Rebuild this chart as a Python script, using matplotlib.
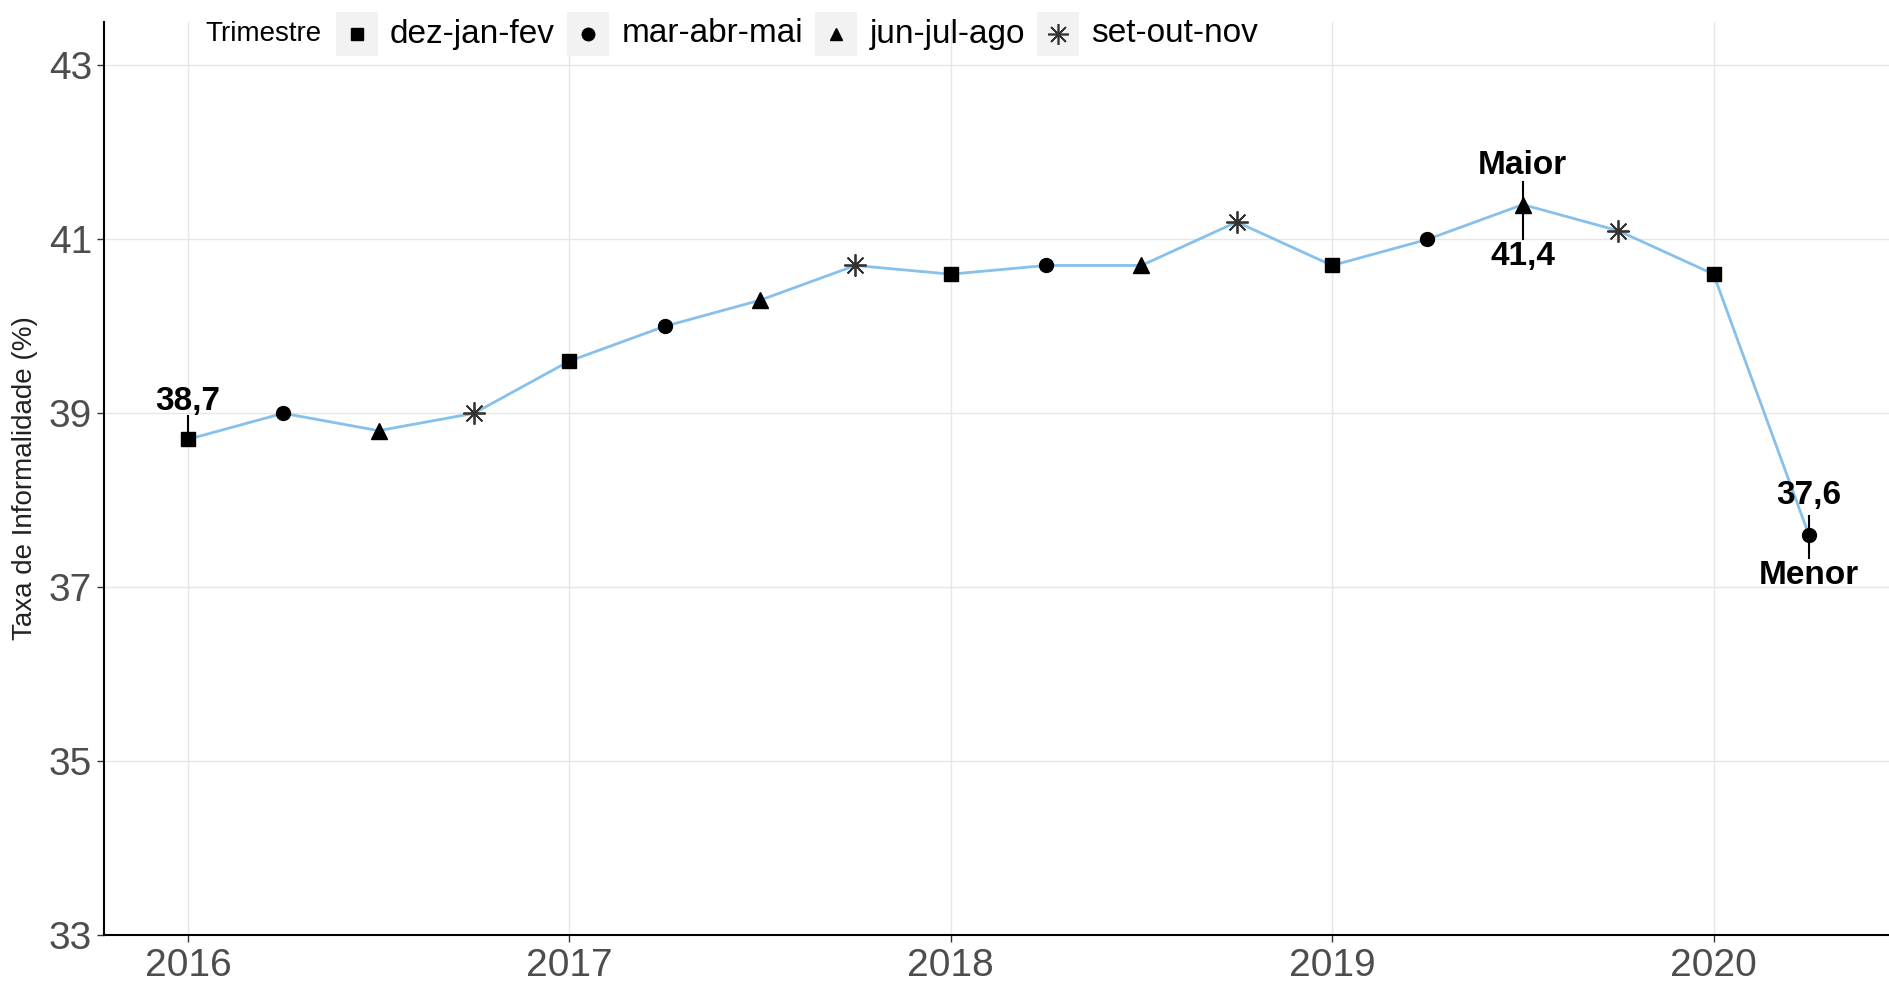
import matplotlib
matplotlib.use("Agg")
import matplotlib.pyplot as plt
from matplotlib.patches import Rectangle

plt.rcParams['font.family'] = ['Liberation Sans', 'DejaVu Sans']

# Data
periods = [2016.0, 2016.25, 2016.5, 2016.75, 2017.0, 2017.25, 2017.5, 2017.75,
           2018.0, 2018.25, 2018.5, 2018.75, 2019.0, 2019.25, 2019.5, 2019.75,
           2020.0, 2020.25]
values = [38.7, 39.0, 38.8, 39.0, 39.6, 40.0, 40.3, 40.7,
          40.6, 40.7, 40.7, 41.2, 40.7, 41.0, 41.4, 41.1,
          40.6, 37.6]
trimestres = ["dez-jan-fev", "mar-abr-mai", "jun-jul-ago", "set-out-nov"]
markers = {"dez-jan-fev": "s", "mar-abr-mai": "o", "jun-jul-ago": "^", "set-out-nov": (8, 2, 0)}
sizes = {"dez-jan-fev": 10, "mar-abr-mai": 10, "jun-jul-ago": 11, "set-out-nov": 16}
x_ticks = [2016, 2017, 2018, 2019, 2020]
y_ticks = [33, 35, 37, 39, 41, 43]

W, H = 1889, 986
fig = plt.figure(figsize=(W / 100, H / 100), dpi=100)
ax = fig.add_axes([104 / W, 1 - 935 / H, (1889 - 104) / W, (935 - 22) / H])

ax.plot(periods, values, color="#85c1ec", lw=2, zorder=2)
for i, (x, y) in enumerate(zip(periods, values)):
    t = trimestres[i % 4]
    m = markers[t]
    if t == "set-out-nov":
        ax.plot(x, y, marker=m, ms=sizes[t], color="#333333", mew=1.3, ls="none", zorder=3)
    else:
        ax.plot(x, y, marker=m, ms=sizes[t], color="black", ls="none", zorder=3)

ax.set_xlim(2015.78, 2020.46)
ax.set_ylim(33, 43.5)
ax.set_xticks(x_ticks)
ax.set_yticks(y_ticks)
ax.grid(True, color="#e6e6e6", lw=1)
ax.set_axisbelow(True)
for s in ["top", "right"]:
    ax.spines[s].set_visible(False)
for s in ["left", "bottom"]:
    ax.spines[s].set_color("black")
    ax.spines[s].set_linewidth(1.5)
ax.tick_params(axis="both", labelsize=28, labelcolor="#4d4d4d", color="#333333", length=5, width=1)
ax.tick_params(axis="x", pad=4)
ax.set_ylabel("Taxa de Informalidade (%)", fontsize=20, color="#222222", labelpad=8)

# Annotations
fs_ann = 24
i0 = 0
imax = values.index(max(values))
imin = values.index(min(values))
ax.plot([periods[i0]] * 2, [values[i0], 38.97], color="black", lw=1.5, zorder=4)
ax.text(periods[i0], 39.13, "38,7", ha="center", va="center", fontsize=fs_ann, fontweight="bold")
ax.plot([periods[imax]] * 2, [41.0, 41.66], color="black", lw=1.5, zorder=4)
ax.text(periods[imax], 41.85, "Maior", ha="center", va="center", fontsize=fs_ann, fontweight="bold")
ax.text(periods[imax], 40.8, "41,4", ha="center", va="center", fontsize=fs_ann, fontweight="bold")
ax.plot([periods[imin]] * 2, [37.33, 37.82], color="black", lw=1.5, zorder=4)
ax.text(periods[imin], 38.06, "37,6", ha="center", va="center", fontsize=fs_ann, fontweight="bold")
ax.text(periods[imin], 37.13, "Menor", ha="center", va="center", fontsize=fs_ann, fontweight="bold")

# Legend (manual, horizontal with title on the left)
def fx(px):
    return px / W
def fy(py):
    return 1 - py / H

ly = 34
fig.text(fx(205), fy(ly), "Trimestre", fontsize=20, va="center", ha="left", color="black")
key_x = [357, 588, 836, 1058]
text_x = [390, 622, 870, 1091]
for t, kx, tx in zip(trimestres, key_x, text_x):
    fig.patches.append(Rectangle((fx(kx - 21), fy(ly + 22)), 42 / W, 44 / H,
                                 transform=fig.transFigure, facecolor="#f2f2f2",
                                 edgecolor="none", zorder=1))
    if t == "set-out-nov":
        fig.lines.append(plt.Line2D([fx(kx)], [fy(ly)], marker=markers[t], ms=15,
                                    color="#333333", mew=1.2, transform=fig.transFigure))
    else:
        fig.lines.append(plt.Line2D([fx(kx)], [fy(ly)], marker=markers[t], ms=9,
                                    color="black", transform=fig.transFigure))
    fig.text(fx(tx), fy(ly), t, fontsize=24, va="center", ha="left", color="black")

fig.savefig("out.png", dpi=100)
